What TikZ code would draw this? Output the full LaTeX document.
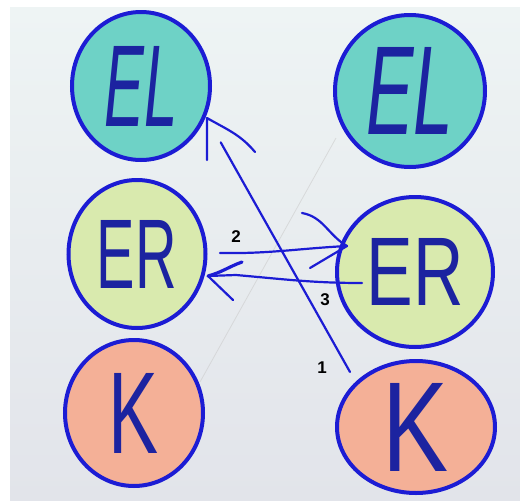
\documentclass[tikz,border=0pt]{standalone}
\usepackage{fontspec}
\setmainfont{Liberation Sans}
\usetikzlibrary{shapes.geometric,calc}

\definecolor{paper}{HTML}{EEF4F4}
\definecolor{paperlow}{HTML}{E2E4EA}
\definecolor{ink}{HTML}{1C1CD4}
\definecolor{letterink}{HTML}{1C23A0}
\definecolor{elfill}{HTML}{6ED2C6}
\definecolor{erfill}{HTML}{D9EAAE}
\definecolor{kfill}{HTML}{F4B097}

% hand-lettered word stretched to a given width and cap height
\newcommand{\handword}[3]{\resizebox{#1pt}{#2pt}{#3}}

\tikzset{
  bubble/.style={ellipse, draw=ink, line width=4pt, inner sep=0pt,
    text=letterink},
  elbubble/.style={bubble, fill=elfill},
  erbubble/.style={bubble, fill=erfill},
  kbubble/.style={bubble, fill=kfill},
  pen/.style={draw=ink, line width=2.2pt, line cap=round, line join=round},
  thickpen/.style={pen, line width=3.2pt},
  stepnum/.style={font=\bfseries\fontsize{17}{17}\selectfont, text=black, inner sep=0pt},
}

\begin{document}
\begin{tikzpicture}[x=1pt,y=-1pt]
  % sheet of paper on a white margin
  \useasboundingbox (0,0) rectangle (520,501);
  \fill[white] (0,0) rectangle (520,501);
  \shade[top color=paper, bottom color=paperlow] (10,7) rectangle (520,501);

  % faint pencil guide line
  \draw[gray!40, line width=0.8pt, opacity=0.6] (336,138) -- (200,382);

  % left column
  \node[elbubble, minimum width=138pt, minimum height=148pt] (EL1) at (141,86)
    {\itshape\handword{73}{80}{EL}};
  \node[erbubble, minimum width=137pt, minimum height=148pt] (ER1) at (137,254)
    {\handword{80}{68}{ER}};
  \node[kbubble, minimum width=138pt, minimum height=146pt] (K1) at (134,413)
    {\handword{50}{80}{K}};

  % right column
  \node[elbubble, minimum width=150pt, minimum height=152pt] (EL2) at (410,91)
    {\itshape\handword{87}{87}{EL}};
  \node[erbubble, minimum width=156pt, minimum height=150pt] (ER2) at (415,272)
    {\handword{97}{67}{ER}};
  \node[kbubble, minimum width=158pt, minimum height=132pt] (K2) at (416,427)
    {\handword{66}{88}{K}};

  % arrow 1: from K (right) up to EL (left)
  \coordinate (a1s) at (350,372);
  \coordinate (a1t) at (207,118);
  \draw[pen, shorten >=28pt] (a1s) -- (a1t);
  \draw[pen] (207,160) -- (a1t) to[out=-30,in=130] (255,152);
  \node[stepnum] (n1) at (322,368) {1};

  % arrow 2: from ER (left) across to ER (right)
  \coordinate (a2s) at (220,253);
  \coordinate (a2t) at (347,246);
  \draw[pen] (a2s) to[out=-1,in=183] (a2t);
  \draw[pen] (302,213) to[out=-10,in=150] (a2t);
  \draw[pen] (310,268) -- (a2t);
  \node[stepnum] (n2) at (236,237) {2};

  % arrow 3: from ER (right) back to ER (left)
  \coordinate (a3s) at (362,283);
  \coordinate (a3t) at (208,276);
  \draw[pen] (a3s) to[out=180,in=-5] (236,275) -- (a3t);
  \draw[thickpen] (242,262) to[out=200,in=15] (a3t);
  \draw[pen] (a3t) -- (233,300);
  \node[stepnum] (n3) at (325,300) {3};
\end{tikzpicture}
\end{document}
